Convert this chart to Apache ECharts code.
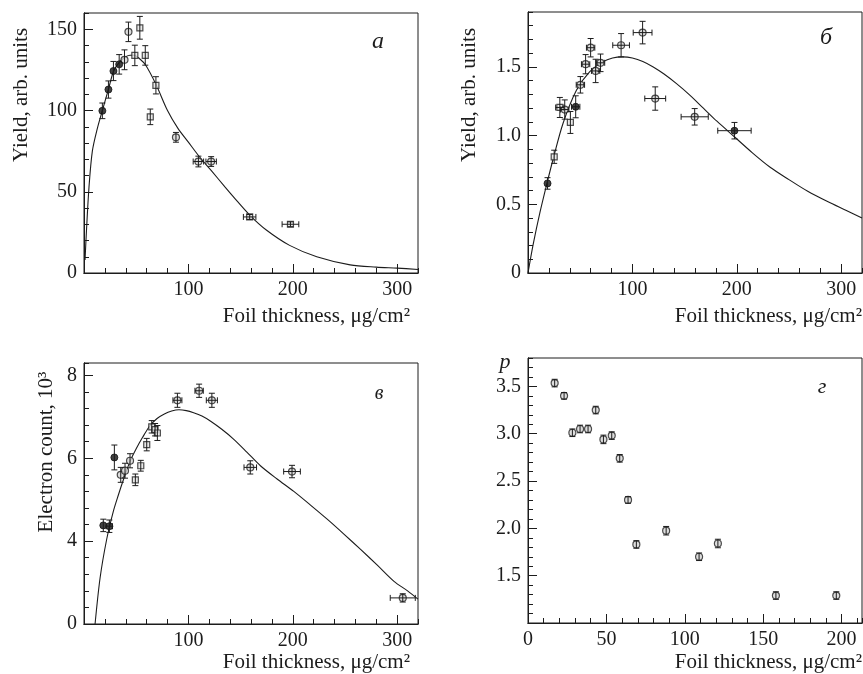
<!DOCTYPE html>
<html><head><meta charset="utf-8">
<script src="https://cdn.jsdelivr.net/npm/echarts@6/dist/echarts.min.js"></script>
<style>html,body{margin:0;padding:0;background:#fff}#c{width:863px;height:674px}</style>
</head><body><div id="c"></div>
<script>
// ---------- Panel а : yield vs foil thickness ----------
const aThick    = [17.6, 23.4, 28.2, 33.7, 38.8, 42.6, 48.7, 53.5, 58.7, 63.5, 68.9, 88.1, 109.6, 121.8, 158.7, 197.8];
const aYield    = [99.8, 112.9, 124.3, 128.4, 131.2, 148.4, 133.9, 150.9, 133.9, 96.1, 115.5, 83.5, 68.6, 68.6, 34.5, 30.0];
const aYieldErr = [4.8, 5.3, 5.9, 6, 6.1, 6, 6.3, 7, 6, 4.8, 5.3, 3, 3.3, 3, 1.5, 1.5];
const aThickErr = [0, 0, 0, 0, 0, 0, 0, 0, 0, 0, 0, 0, 5, 5, 6, 8];
const aKind     = ['f','f','f','f','o','o','s','s','s','s','s','o','o','o','s','s'];
const aFitX = [1, 2.2, 4.8, 8, 12.8, 17.6, 23.4, 28.2, 33, 38.5, 44, 48, 53, 59, 69, 80, 90, 100, 110, 122, 135, 143, 159, 175, 197, 223, 255, 280, 300, 320];
const aFitY = [8, 24, 53, 75, 89, 100, 113, 124, 129, 132.5, 134, 134, 132, 128, 116, 100, 89, 80.5, 72, 63, 53, 47, 35.5, 26.3, 17, 10, 5, 3.6, 3, 2.2];

// ---------- Panel б ----------
const bThick    = [18.7, 25.1, 30.5, 35.2, 40.6, 45.7, 50.2, 55.2, 60, 64.8, 69.5, 89.2, 109.8, 121.9, 159.7, 197.8];
const bYield    = [0.652, 0.846, 1.205, 1.19, 1.096, 1.21, 1.37, 1.52, 1.64, 1.471, 1.53, 1.658, 1.75, 1.27, 1.137, 1.036];
const bYieldErr = [0.042, 0.048, 0.073, 0.07, 0.08, 0.08, 0.06, 0.07, 0.067, 0.085, 0.064, 0.085, 0.082, 0.085, 0.06, 0.06];
const bThickErr = [0, 0, 4, 4, 0, 4, 4, 4, 4, 4, 4, 8, 9, 10, 13, 16];
const bKind     = ['f','s','s','o','s','f','o','o','o','o','o','o','o','o','o','f'];
const bFitX = [0, 5, 11.4, 18.4, 24.1, 33.6, 46.4, 59, 71.7, 81, 90.8, 100, 110, 120, 130, 142, 155, 168, 181, 198, 215, 232, 250, 268, 287, 305, 320];
const bFitY = [0, 0.21, 0.44, 0.66, 0.83, 1.09, 1.33, 1.464, 1.537, 1.565, 1.573, 1.565, 1.54, 1.5, 1.45, 1.38, 1.295, 1.2, 1.105, 0.99, 0.875, 0.77, 0.68, 0.595, 0.52, 0.455, 0.40];

// ---------- Panel в : electron count ----------
const cThick    = [18.5, 24.3, 29.1, 35.2, 39.3, 44.1, 49.2, 54.4, 60.1, 64.9, 68.1, 70.3, 89.5, 110.3, 122.5, 159.3, 199.3, 305.4];
const cCount    = [4.38, 4.36, 6.02, 5.60, 5.70, 5.94, 5.48, 5.82, 6.33, 6.76, 6.69, 6.61, 7.40, 7.63, 7.40, 5.78, 5.68, 2.63];
const cCountErr = [0.15, 0.15, 0.3, 0.18, 0.18, 0.17, 0.14, 0.13, 0.15, 0.15, 0.15, 0.18, 0.17, 0.16, 0.17, 0.16, 0.15, 0.1];
const cThickErr = [0, 3, 0, 0, 0, 0, 0, 0, 0, 0, 0, 0, 4.3, 4, 5.3, 6, 8, 12];
const cKind     = ['f','f','f','o','o','o','s','s','s','s','s','s','o','o','o','o','o','o'];
const cFitX = [10.6, 15.4, 21.7, 28.1, 33, 38, 44, 50, 56, 63, 70, 77, 84, 91, 98, 105, 113, 121, 132, 143, 156, 169, 185, 201, 217, 233, 249, 265, 281, 297, 310, 320];
const cFitY = [2.0, 3.11, 4.04, 4.72, 5.12, 5.5, 5.92, 6.23, 6.5, 6.78, 6.96, 7.07, 7.14, 7.17, 7.15, 7.1, 7.02, 6.9, 6.7, 6.47, 6.15, 5.82, 5.5, 5.2, 4.87, 4.53, 4.17, 3.8, 3.42, 3.03, 2.8, 2.6];
const cTickValues = [2, 4, 6, 8];
const cTickLabels = ['0', '4', '6', '8'];

// ---------- Panel г : p ----------
const dThick = [17.0, 23.0, 28.3, 33.2, 38.3, 43.2, 48.1, 53.4, 58.5, 63.8, 69.1, 88.1, 109.1, 121.1, 158.1, 196.6];
const dP     = [3.535, 3.40, 3.01, 3.05, 3.05, 3.25, 2.94, 2.98, 2.74, 2.30, 1.83, 1.975, 1.70, 1.84, 1.29, 1.29];
const dPErr  = [0.04, 0.035, 0.04, 0.04, 0.04, 0.04, 0.045, 0.04, 0.04, 0.035, 0.04, 0.045, 0.04, 0.045, 0.04, 0.04];
const dKind  = ['o','o','o','o','o','o','o','o','o','o','o','o','o','o','o','o'];

// ---------- texts ----------
const xTitle = 'Foil thickness, μg/cm²';
const yTitleA = 'Yield, arb. units';
const yTitleC = 'Electron count, 10³';
const panelLetters = ['а', 'б', 'в', 'г'];

const FONT = '"Liberation Serif", "Times New Roman", serif';
const INK = '#1c1c1c';

const panels = [
  { grid: {left: 84, top: 13, width: 334, height: 260},
    x: {min: 0, max: 320, major: 100, minor: 20, showMin: false},
    y: {min: 0, max: 160, major: 50, minor: 10, fmt: v => String(v)},
    pts: [aThick, aYield, aThickErr, aYieldErr, aKind], fit: [aFitX, aFitY] },
  { grid: {left: 528, top: 12, width: 334, height: 261},
    x: {min: 0, max: 320, major: 100, minor: 20, showMin: false},
    y: {min: 0, max: 1.9, major: 0.5, minor: 0.1, fmt: v => v === 0 ? '0' : v.toFixed(1)},
    pts: [bThick, bYield, bThickErr, bYieldErr, bKind], fit: [bFitX, bFitY] },
  { grid: {left: 84, top: 363, width: 334, height: 261},
    x: {min: 0, max: 320, major: 100, minor: 20, showMin: false},
    y: {min: 2, max: 8.3, major: 2, minor: 0.4, fmt: v => { const i = cTickValues.indexOf(v); return i >= 0 ? cTickLabels[i] : ''; }},
    pts: [cThick, cCount, cThickErr, cCountErr, cKind], fit: [cFitX, cFitY] },
  { grid: {left: 528, top: 358, width: 334, height: 265},
    x: {min: 0, max: 213, major: 50, minor: 10, showMin: true},
    y: {min: 1.0, max: 3.8, major: 0.5, minor: 0.1, fmt: v => v.toFixed(1), hideMin: true},
    pts: [dThick, dP, dThick.map(() => 0), dPErr, dKind], fit: null }
];

const grids = [], xAxes = [], yAxes = [], series = [];

function errRender(params, api) {
  const x = api.value(0), y = api.value(1), ex = api.value(2), ey = api.value(3);
  const cap = 3;
  const st = {stroke: INK, lineWidth: 1};
  const ch = [];
  if (ey > 0) {
    const t = api.coord([x, y + ey]), b = api.coord([x, y - ey]);
    ch.push({type: 'line', shape: {x1: t[0], y1: t[1], x2: b[0], y2: b[1]}, style: st});
    ch.push({type: 'line', shape: {x1: t[0] - cap, y1: t[1], x2: t[0] + cap, y2: t[1]}, style: st});
    ch.push({type: 'line', shape: {x1: b[0] - cap, y1: b[1], x2: b[0] + cap, y2: b[1]}, style: st});
  }
  if (ex > 0) {
    const l = api.coord([x - ex, y]), r = api.coord([x + ex, y]);
    ch.push({type: 'line', shape: {x1: l[0], y1: l[1], x2: r[0], y2: r[1]}, style: st});
    ch.push({type: 'line', shape: {x1: l[0], y1: l[1] - cap, x2: l[0], y2: l[1] + cap}, style: st});
    ch.push({type: 'line', shape: {x1: r[0], y1: r[1] - cap, x2: r[0], y2: r[1] + cap}, style: st});
  }
  return {type: 'group', children: ch};
}

const kindStyle = {
  f: {symbol: 'circle', symbolSize: 7, itemStyle: {color: '#111', borderColor: '#111', borderWidth: 1}},
  o: {symbol: 'circle', symbolSize: 7, itemStyle: {color: '#d4d4d4', borderColor: '#222', borderWidth: 1.2}},
  s: {symbol: 'rect', symbolSize: 6, itemStyle: {color: '#e4e4e4', borderColor: '#222', borderWidth: 1.2}}
};

panels.forEach((p, i) => {
  grids.push(Object.assign({show: true, borderColor: INK, borderWidth: 1, backgroundColor: 'transparent'}, p.grid));
  const lab = {fontFamily: FONT, fontSize: 20, color: INK};
  // major x (labels + long ticks)
  xAxes.push({type: 'value', gridIndex: i, position: 'bottom', min: p.x.min, max: p.x.max, interval: p.x.major,
    axisLine: {show: true, lineStyle: {color: INK}}, axisTick: {show: true, inside: true, length: 9, lineStyle: {color: INK}},
    axisLabel: Object.assign({margin: 7, showMinLabel: p.x.showMin, showMaxLabel: false}, lab),
    splitLine: {show: false}});
  // minor x (short ticks)
  xAxes.push({type: 'value', gridIndex: i, position: 'bottom', min: p.x.min, max: p.x.max, interval: p.x.minor,
    axisLine: {show: true, lineStyle: {color: INK}}, axisTick: {show: true, inside: true, length: 5, lineStyle: {color: INK}},
    axisLabel: {show: false}, splitLine: {show: false}});
  // major y
  yAxes.push({type: 'value', gridIndex: i, position: 'left', min: p.y.min, max: p.y.max, interval: p.y.major,
    axisLine: {show: true, lineStyle: {color: INK}}, axisTick: {show: true, inside: true, length: 9, lineStyle: {color: INK}},
    axisLabel: Object.assign({margin: 7, formatter: p.y.fmt, showMinLabel: !p.y.hideMin, showMaxLabel: false}, lab),
    splitLine: {show: false}});
  // minor y
  yAxes.push({type: 'value', gridIndex: i, position: 'left', min: p.y.min, max: p.y.max, interval: p.y.minor,
    axisLine: {show: true, lineStyle: {color: INK}}, axisTick: {show: true, inside: true, length: 5, lineStyle: {color: INK}},
    axisLabel: {show: false}, splitLine: {show: false}});

  const xi = 2 * i, yi = 2 * i;
  const [xs, ys, exs, eys, kinds] = p.pts;
  if (p.fit) {
    series.push({type: 'line', xAxisIndex: xi, yAxisIndex: yi, data: p.fit[0].map((x, k) => [x, p.fit[1][k]]),
      smooth: 0.3, symbol: 'none', lineStyle: {color: INK, width: 1.1}});
  }
  ['s', 'o', 'f'].forEach(k => {
    const d = [];
    xs.forEach((x, j) => { if (kinds[j] === k) d.push([x, ys[j]]); });
    if (d.length) series.push(Object.assign({type: 'scatter', xAxisIndex: xi, yAxisIndex: yi, data: d, z: 3}, kindStyle[k]));
  });
  series.push({type: 'custom', xAxisIndex: xi, yAxisIndex: yi, renderItem: errRender,
    data: xs.map((x, j) => [x, ys[j], exs[j], eys[j]]), z: 4});
});

// plain (non-rich) text elements
function txt(x, y, t, opts) {
  return {type: 'text', x: x, y: y, rotation: opts.rot || 0,
    style: {text: t, fontFamily: FONT, fontSize: opts.size || 21, fontStyle: opts.italic ? 'italic' : 'normal',
      fill: INK, align: opts.align || 'center', verticalAlign: opts.valign || 'middle'}};
}

const graphic = [
  txt(410, 316, xTitle, {align: 'right'}), txt(862, 316, xTitle, {align: 'right'}),
  txt(410, 662, xTitle, {align: 'right'}), txt(862, 662, xTitle, {align: 'right'}),
  txt(21, 95, yTitleA, {rot: Math.PI / 2}), txt(469, 95, yTitleA, {rot: Math.PI / 2}),
  txt(46, 452, yTitleC, {rot: Math.PI / 2}),
  txt(378, 42, panelLetters[0], {size: 24, italic: true}), txt(826, 38, panelLetters[1], {size: 24, italic: true}),
  txt(379, 394, panelLetters[2], {size: 20, italic: true}), txt(822, 387, panelLetters[3], {size: 22, italic: true}),
  txt(505, 362, 'p', {size: 22, italic: true})
];

const chart = echarts.init(document.getElementById('c'));
chart.setOption({animation: false, grid: grids, xAxis: xAxes, yAxis: yAxes, series: series, graphic: graphic});
</script></body></html>
